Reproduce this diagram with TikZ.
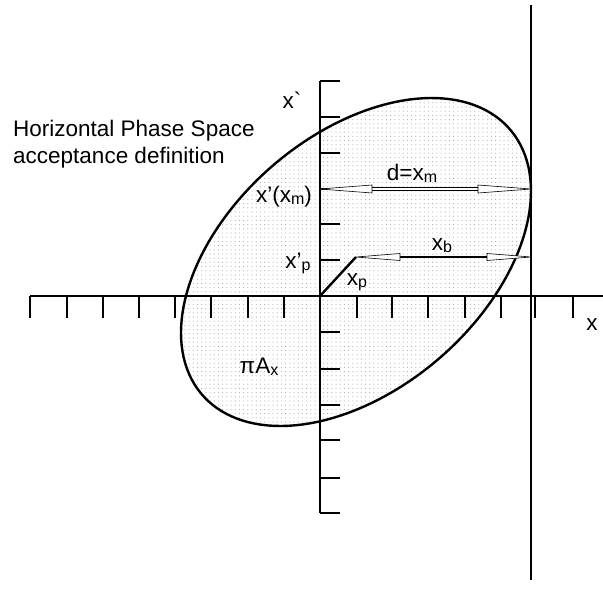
\documentclass[tikz,border=0pt]{standalone}
\usepackage{fontspec}
\newfontfamily\af{Liberation Sans}
\usetikzlibrary{patterns.meta}
\newcommand\sbs[1]{\raisebox{-2pt}{\fontsize{16}{16}\selectfont #1}}
\begin{document}
\begin{tikzpicture}[x=1pt,y=-1pt,
  font=\af\fontsize{22.5}{24}\selectfont,
  axis/.style={line width=2.4pt},
  lbl/.style={inner sep=0pt},
  head/.style={draw, fill=white, line width=0.6pt, line join=miter}]
\useasboundingbox (0,0) rectangle (603,590);
% ellipse (acceptance)
\draw[line width=2.4pt, preaction={fill=white},
  pattern={Dots[distance=4.2pt,radius=0.55pt]}, pattern color=gray!65]
  plot[domain=0:360, samples=145] ({356+175*cos(\x)},{262+164*cos(\x+115.6)}) -- cycle;
% axes
\coordinate (xl) at (30,296);
\coordinate (xr) at (603,296);
\coordinate (yt) at (320,81);
\coordinate (yb) at (320,513);
\coordinate (vt) at (531,5);
\coordinate (vb) at (531,580);
\draw[axis] (xl) -- (xr);
\draw[axis] (yt) -- (yb);
\draw[axis] (vt) -- (vb);
\foreach \t in {30,67,103,139,175,211,248,284,357,392,428,465,501,535,573}
  \draw[axis] (\t,296) -- (\t,318);
\foreach \t in {81,117,153,189,224,260,332,369,405,440,478,513}
  \draw[axis] (320,\t) -- (340,\t);
% xp segment
\coordinate (o) at (320,296);
\coordinate (p) at (356,257);
\draw[axis] (o) -- (p);
% upper double arrow d = x_m
\coordinate (dl) at (320,189);
\coordinate (dr) at (531,189);
\draw[line width=0.6pt] (372,187.5) -- (478,187.5);
\draw[line width=0.6pt] (372,190.5) -- (478,190.5);
\draw[head] (dl) -- (372,185) -- (372,193) -- cycle;
\draw[head] (dr) -- (478,185) -- (478,193) -- cycle;
% lower arrow x_b
\coordinate (bl) at (356,257);
\coordinate (br) at (531,257);
\draw[line width=2.2pt] (400,257) -- (487,257);
\draw[head] (bl) -- (400,253.5) -- (400,260.5) -- cycle;
\draw[head] (br) -- (487,253.5) -- (487,260.5) -- cycle;
% labels
\node[lbl, anchor=base west] (t1) at (13,136) {Horizontal Phase Space};
\node[lbl, anchor=base west] (t2) at (13,163) {acceptance definition};
\node[lbl] (xlab) at (292,100) {x`};
\node[lbl] (xaxis) at (592,325) {x};
\node[lbl] (dlab) at (412,173) {d=x\sbs{m}};
\node[lbl] (xmlab) at (284,197) {x’(x\sbs{m})};
\node[lbl] (xplab) at (298,263) {x’\sbs{p}};
\node[lbl] (xblab) at (442,246) {x\sbs{b}};
\node[lbl] (xpl) at (357,282) {x\sbs{p}};
\node[lbl] (area) at (259,367) {πA\sbs{x}};
\end{tikzpicture}
\end{document}
